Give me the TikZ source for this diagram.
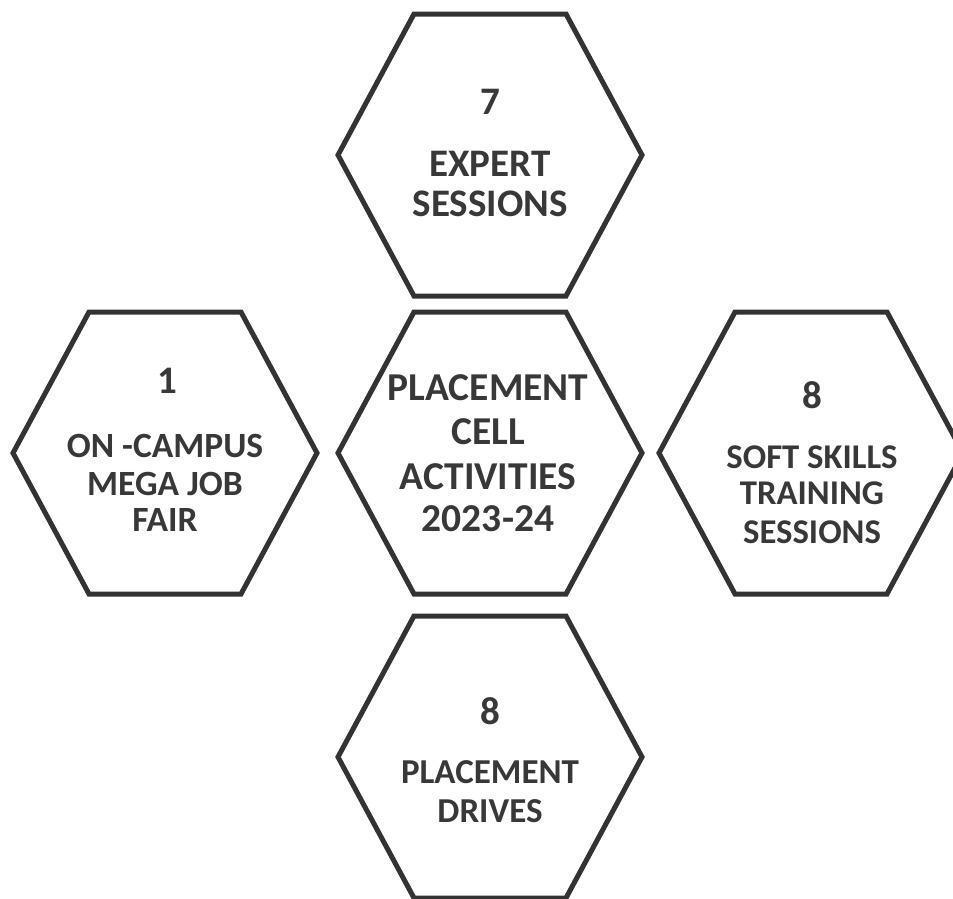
\documentclass[tikz,border=0pt]{standalone}
\usepackage{fontspec}
\setmainfont{Carlito}
\definecolor{hexgray}{HTML}{333333}
\definecolor{txtgray}{HTML}{383838}
\newcommand\hexshape[3]{%
  \draw[hexline] ({#2-152},{#3}) coordinate (#1-w) -- ({#2-76},{#3-141}) -- ({#2+76},{#3-141}) -- ({#2+152},{#3}) coordinate (#1-e) -- ({#2+76},{#3+141}) -- ({#2-76},{#3+141}) -- cycle;}
\begin{document}
\begin{tikzpicture}[x=1pt,y=-1pt,
  hexline/.style={draw=hexgray,line width=5pt,line join=miter},
  lbl/.style={anchor=base,inner sep=0pt,text=txtgray,font=\bfseries\fontsize{#1}{#1}\selectfont},
  lbl/.default=35]
\useasboundingbox (0,0) rectangle (953,898);
\hexshape{top}{490}{155}
\hexshape{mid}{490}{453}
\hexshape{lft}{165}{453}
\hexshape{rgt}{811}{453}
\hexshape{bot}{490}{757}
% top
\node[lbl=39] (t0) at (490,114) {7};
\node[lbl=39] (t1) at (490,176) {EXPERT};
\node[lbl=39] (t2) at (490,216) {SESSIONS};
% middle
\node[lbl=39.5] (m1) at (488,400) {PLACEMENT};
\node[lbl=39.5] (m2) at (488,444) {CELL};
\node[lbl=39.5] (m3) at (488,489) {ACTIVITIES};
\node[lbl=39.5] (m4) at (488,531) {2023-24};
% left
\node[lbl=39] (l0) at (167,393) {1};
\node[lbl=35.5] (l1) at (165,457) {ON -CAMPUS};
\node[lbl=35.5] (l2) at (165,495) {MEGA JOB};
\node[lbl=35.5] (l3) at (165,531) {FAIR};
% right
\node[lbl=39] (r0) at (812,408) {8};
\node[lbl=34.7] (r1) at (812,468) {SOFT SKILLS};
\node[lbl=34.7] (r2) at (812,504) {TRAINING};
\node[lbl=34.7] (r3) at (812,543) {SESSIONS};
% bottom
\node[lbl=39] (b0) at (490,724) {8};
\node[lbl=35] (b1) at (490,783) {PLACEMENT};
\node[lbl=35] (b2) at (490,822) {DRIVES};
\end{tikzpicture}
\end{document}
